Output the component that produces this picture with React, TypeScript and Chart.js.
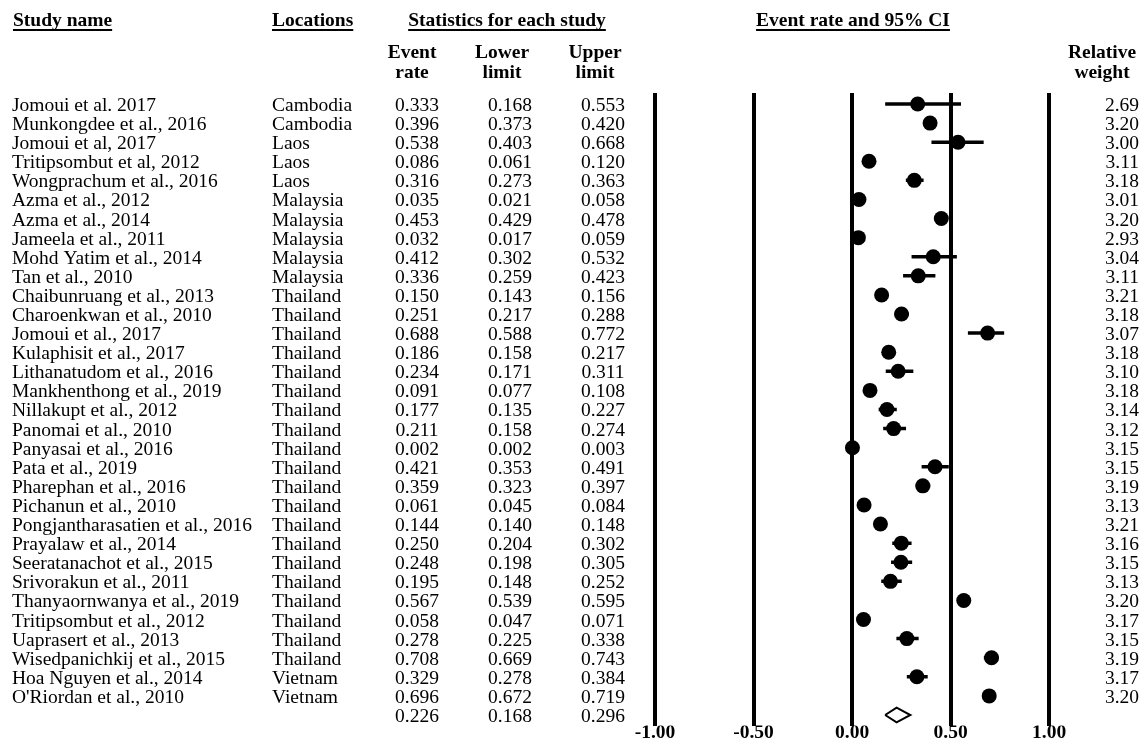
import React, { useEffect, useRef } from "react";
import { Chart, registerables } from "chart.js";

Chart.register(...registerables);

const studies = [
  "Jomoui et al. 2017",
  "Munkongdee et al., 2016",
  "Jomoui et al, 2017",
  "Tritipsombut et al, 2012",
  "Wongprachum et al., 2016",
  "Azma et al., 2012",
  "Azma et al., 2014",
  "Jameela et al., 2011",
  "Mohd Yatim et al., 2014",
  "Tan et al., 2010",
  "Chaibunruang et al., 2013",
  "Charoenkwan et al., 2010",
  "Jomoui et al., 2017",
  "Kulaphisit et al., 2017",
  "Lithanatudom et al., 2016",
  "Mankhenthong et al., 2019",
  "Nillakupt et al., 2012",
  "Panomai et al., 2010",
  "Panyasai et al., 2016",
  "Pata et al., 2019",
  "Pharephan et al., 2016",
  "Pichanun et al., 2010",
  "Pongjantharasatien et al., 2016",
  "Prayalaw et al., 2014",
  "Seeratanachot et al., 2015",
  "Srivorakun et al., 2011",
  "Thanyaornwanya et al., 2019",
  "Tritipsombut et al., 2012",
  "Uaprasert et al., 2013",
  "Wisedpanichkij et al., 2015",
  "Hoa Nguyen et al., 2014",
  "O'Riordan et al., 2010",
];

const locations = [
  "Cambodia", "Cambodia", "Laos", "Laos", "Laos",
  "Malaysia", "Malaysia", "Malaysia", "Malaysia", "Malaysia",
  "Thailand", "Thailand", "Thailand", "Thailand", "Thailand",
  "Thailand", "Thailand", "Thailand", "Thailand", "Thailand",
  "Thailand", "Thailand", "Thailand", "Thailand", "Thailand",
  "Thailand", "Thailand", "Thailand", "Thailand", "Thailand",
  "Vietnam", "Vietnam",
];

const eventRates = [
  0.333, 0.396, 0.538, 0.086, 0.316, 0.035, 0.453, 0.032, 0.412, 0.336,
  0.150, 0.251, 0.688, 0.186, 0.234, 0.091, 0.177, 0.211, 0.002, 0.421,
  0.359, 0.061, 0.144, 0.250, 0.248, 0.195, 0.567, 0.058, 0.278, 0.708,
  0.329, 0.696,
];

const lowerLimits = [
  0.168, 0.373, 0.403, 0.061, 0.273, 0.021, 0.429, 0.017, 0.302, 0.259,
  0.143, 0.217, 0.588, 0.158, 0.171, 0.077, 0.135, 0.158, 0.002, 0.353,
  0.323, 0.045, 0.140, 0.204, 0.198, 0.148, 0.539, 0.047, 0.225, 0.669,
  0.278, 0.672,
];

const upperLimits = [
  0.553, 0.420, 0.668, 0.120, 0.363, 0.058, 0.478, 0.059, 0.532, 0.423,
  0.156, 0.288, 0.772, 0.217, 0.311, 0.108, 0.227, 0.274, 0.003, 0.491,
  0.397, 0.084, 0.148, 0.302, 0.305, 0.252, 0.595, 0.071, 0.338, 0.743,
  0.384, 0.719,
];

const relativeWeights = [
  2.69, 3.20, 3.00, 3.11, 3.18, 3.01, 3.20, 2.93, 3.04, 3.11,
  3.21, 3.18, 3.07, 3.18, 3.10, 3.18, 3.14, 3.12, 3.15, 3.15,
  3.19, 3.13, 3.21, 3.16, 3.15, 3.13, 3.20, 3.17, 3.15, 3.19,
  3.17, 3.20,
];

// pooled estimate: [event rate, lower limit, upper limit]
const summaryStats = [0.226, 0.168, 0.296];

const axisTicks = [-1, -0.5, 0, 0.5, 1];

const FONT = '"Liberation Serif", "Times New Roman", Times, serif';
const FS = 19.5;

const COL = {
  study: 12,
  loc: 272,
  rate: 417,
  lower: 510,
  upper: 603,
  weight: 1139,
};

const tablePlugin = {
  id: "forestTable",
  afterDraw(chart: any) {
    const ctx = chart.ctx as CanvasRenderingContext2D;
    const ys = chart.scales.y;
    ctx.save();
    ctx.fillStyle = "#000";
    ctx.textBaseline = "alphabetic";
    ctx.font = `${FS}px ${FONT}`;
    const off = 7;
    studies.forEach((s, i) => {
      const py = ys.getPixelForValue(i) + off;
      ctx.textAlign = "left";
      ctx.fillText(s, COL.study, py);
      ctx.fillText(locations[i], COL.loc, py);
      ctx.textAlign = "center";
      ctx.fillText(eventRates[i].toFixed(3), COL.rate, py);
      ctx.fillText(lowerLimits[i].toFixed(3), COL.lower, py);
      ctx.fillText(upperLimits[i].toFixed(3), COL.upper, py);
      ctx.textAlign = "right";
      ctx.fillText(relativeWeights[i].toFixed(2), COL.weight, py);
    });
    const sy = ys.getPixelForValue(studies.length) + off;
    ctx.textAlign = "center";
    ctx.fillText(summaryStats[0].toFixed(3), COL.rate, sy);
    ctx.fillText(summaryStats[1].toFixed(3), COL.lower, sy);
    ctx.fillText(summaryStats[2].toFixed(3), COL.upper, sy);

    // headers
    ctx.font = `bold ${FS}px ${FONT}`;
    const underlined = (t: string, x: number, align: "left" | "center") => {
      ctx.textAlign = align;
      ctx.fillText(t, x, 26);
      const w = ctx.measureText(t).width;
      const x0 = align === "left" ? x : x - w / 2;
      ctx.fillRect(x0, 29, w, 2);
    };
    underlined("Study name", COL.study + 1, "left");
    underlined("Locations", COL.loc, "left");
    underlined("Statistics for each study", 507, "center");
    underlined("Event rate and 95% CI", 853, "center");

    ctx.textAlign = "center";
    const two = (a: string, b: string, x: number) => {
      ctx.fillText(a, x, 58);
      ctx.fillText(b, x, 78);
    };
    two("Event", "rate", 412);
    two("Lower", "limit", 502);
    two("Upper", "limit", 595);
    two("Relative", "weight", 1102);
    ctx.restore();
  },
};

export default function App() {
  const ref = useRef<HTMLCanvasElement | null>(null);

  useEffect(() => {
    if (!ref.current) return;
    const n = studies.length;
    const ciSets = studies.map((_, i) => ({
      type: "scatter" as const,
      showLine: true,
      data: [
        { x: lowerLimits[i], y: i },
        { x: upperLimits[i], y: i },
      ],
      borderColor: "#000",
      borderWidth: 3.5,
      pointRadius: 0,
      order: 2,
    }));
    const h = 0.39;
    const diamond = {
      type: "scatter" as const,
      showLine: true,
      data: [
        { x: summaryStats[1], y: n },
        { x: summaryStats[0], y: n - h },
        { x: summaryStats[2], y: n },
        { x: summaryStats[0], y: n + h },
        { x: summaryStats[1], y: n },
      ],
      borderColor: "#000",
      borderWidth: 2,
      borderJoinStyle: "miter" as const,
      pointRadius: 0,
      order: 1,
    };
    const points = {
      type: "scatter" as const,
      data: eventRates.map((r, i) => ({ x: r, y: i })),
      backgroundColor: "#000",
      borderWidth: 0,
      pointRadius: 7.5,
      order: 0,
    };

    const chart = new Chart(ref.current, {
      type: "scatter",
      data: { datasets: [points, diamond, ...ciSets] as any },
      options: {
        animation: false,
        responsive: false,
        maintainAspectRatio: false,
        layout: { autoPadding: false, padding: { top: 93, bottom: 2, left: 0, right: 0 } },
        plugins: { legend: { display: false }, tooltip: { enabled: false } },
        scales: {
          x: {
            type: "linear",
            position: "bottom",
            min: -4.325,
            max: 1.492,
            afterBuildTicks: (scale: any) => {
              scale.ticks = axisTicks.map((v) => ({ value: v }));
            },
            ticks: {
              autoSkip: false,
              padding: -2,
              color: "#000",
              font: { family: FONT, size: FS, weight: "bold", lineHeight: 1 },
              callback: (v: any) => Number(v).toFixed(2),
            },
            grid: {
              color: "#000",
              lineWidth: 4,
              drawTicks: false,
              drawOnChartArea: true,
            },
            border: { display: false },
          },
          y: {
            type: "linear",
            display: false,
            reverse: true,
            min: -0.576,
            max: 32.55,
          },
        },
      },
      plugins: [tablePlugin],
    });
    return () => chart.destroy();
  }, []);

  return (
    <div style={{ position: "fixed", left: 0, top: 0, width: 1146, height: 743, background: "#fff" }}>
      <canvas ref={ref} width={1146} height={743} style={{ display: "block" }} />
    </div>
  );
}
